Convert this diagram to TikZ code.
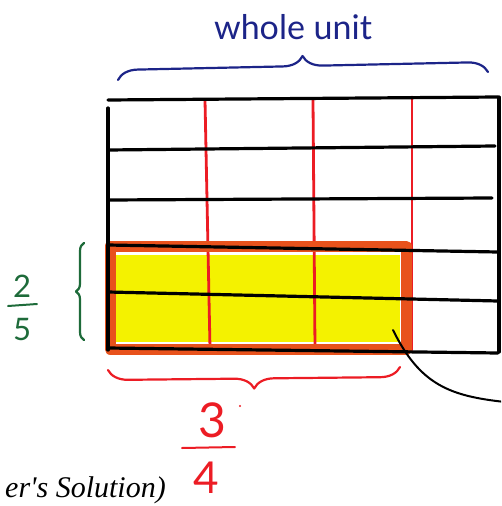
\documentclass[tikz,border=0pt]{standalone}
\usepackage{fontspec}
\setmainfont{Liberation Serif}
\setsansfont{Lato}
\usetikzlibrary{decorations.pathreplacing}
\definecolor{pen}{HTML}{1C2488}
\definecolor{leaf}{HTML}{1E6B3A}
\definecolor{marker}{HTML}{EC1C24}
\definecolor{rim}{HTML}{E8521C}
\definecolor{hilite}{HTML}{F4F200}

\begin{document}
\begin{tikzpicture}[x=1pt,y=-1pt,line cap=round,line join=round,
  gridline/.style={black,line width=3.2pt},
  redline/.style={marker,line width=2.8pt},
  hand/.style={font=\sffamily\fontsize{#1}{#1}\selectfont,inner sep=0pt},
  bracepen/.style={line width=2.2pt,decorate}]
  \path[use as bounding box] (0,0) rectangle (501,506);
  \clip (0,0) rectangle (501,506);

  % Shaded part: 3/4 of 2/5
  \fill[hilite] (114,255) rectangle (400,342);

  % Red cuts into fourths
  \draw[redline] (205,100) -- (210,348);
  \draw[redline] (313,100) -- (315,348);
  \draw[redline] (412,97) -- (412,350);

  % Orange frame round the shaded part
  \draw[rim,line width=11pt] (110,246) rectangle (406,349);

  % Black grid, fifths
  \draw[gridline] (108,100) -- (498,97);
  \draw[gridline] (108,150) -- (495,146);
  \draw[gridline] (108,200) -- (492,198);
  \draw[gridline] (108,245) -- (498,252);
  \draw[gridline] (108,292) -- (498,301);
  \draw[gridline] (108,348) -- (498,353);
  \draw[gridline] (108,108) -- (108,350);
  \draw[gridline] (499,97) -- (499,352);

  % Whole unit
  \draw[pen,bracepen,decoration={brace,amplitude=20pt}] (118,80) -- (488,72);
  \node[hand=34,pen] (whole) at (293,27) {whole unit};

  % Two fifths
  \draw[leaf,bracepen,decoration={brace,amplitude=8pt}] (84,340) -- (84,243);
  \node[hand=31,leaf] (twonum) at (22,286) {2};
  \node[hand=31,leaf] (fiveden) at (22,330) {5};
  \draw[leaf,line width=2pt] (8,306) -- (37,304);

  % Three fourths
  \draw[marker,bracepen,decoration={brace,mirror,amplitude=20pt}] (108,370) -- (400,367);
  \node[hand=48,marker] (threenum) at (212,420) {3};
  \node[hand=44,marker] (fourden) at (206,478) {4};
  \draw[marker,line width=2pt] (182,448) -- (235,447);
  \fill[marker] (240,406) circle (1.2);

  % Pointer out of the shaded part
  \coordinate (ptrstart) at (393,330);
  \coordinate (ptrend) at (505,402);
  \draw[black,line width=2pt] (ptrstart) .. controls (420,385) and (450,396) .. (ptrend);

  % Caption
  \node[font=\itshape\fontsize{30}{30}\selectfont,anchor=base east,inner sep=0pt] (caption) at (166,497) {er\textquotesingle s Solution)};
\end{tikzpicture}
\end{document}
